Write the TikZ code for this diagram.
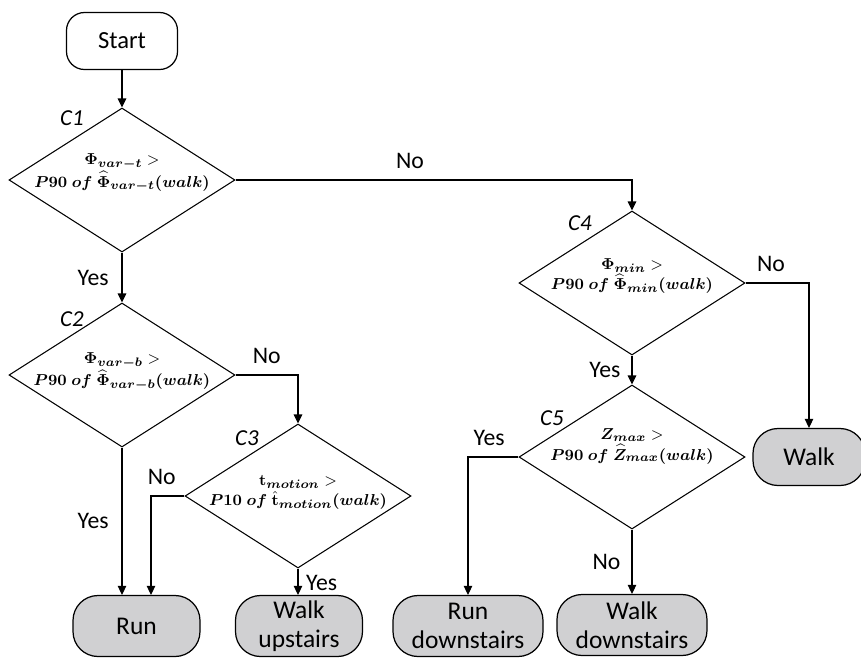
\documentclass[tikz,border=0pt]{standalone}
\usepackage{amsmath,bm}
\usepackage[no-math]{fontspec}
\setmainfont{Carlito}
\usepackage{tikz}
\usetikzlibrary{arrows.meta,positioning,calc,shapes.geometric}
\definecolor{endgray}{HTML}{D0D0D2}

\begin{document}
\begin{tikzpicture}[
    every node/.style={font=\fontsize{13.5pt}{16pt}\selectfont},
    term/.style={draw, line width=0.7pt, rounded corners=0.36cm,
                 minimum width=2.22cm, minimum height=1.14cm, align=center,
                 font=\fontsize{14pt}{16pt}\selectfont},
    endbox/.style={draw, line width=0.7pt, rounded corners=0.5cm, fill=endgray,
                   minimum height=1.22cm, align=center, inner sep=1pt,
                   font=\fontsize{14.5pt}{16.5pt}\selectfont},
    cond/.style={draw, diamond, line width=0.6pt, inner sep=0pt,
                 minimum width=4.52cm, minimum height=2.88cm},
    ctext/.style={align=center, inner sep=0pt,
                  font=\fontsize{9.3pt}{11.5pt}\selectfont},
    clabel/.style={font=\fontsize{13pt}{15pt}\selectfont\itshape},
    arr/.style={-{Triangle[length=1.8mm, width=1.7mm]}, line width=0.6pt}
]
\useasboundingbox (0,0) rectangle (17.22,-13.18);

% ── Start ─────────────────────────────────────────────────────────────────
\node[term] (start) at (2.44,-0.82) {Start};

% ── Conditions ────────────────────────────────────────────────────────────
\node[cond, label={[ctext, yshift=4pt]center:$\bm{\Phi_{var-t}} >$\\$\bm{P90\;of\;\widehat{\Phi}_{var-t}(walk)}$}]
      (c1) at (2.44,-3.60) {};
\node[clabel] (c1lab) at (1.44,-2.36) {C1};

\node[cond, label={[ctext, yshift=2pt]center:$\bm{\Phi_{var-b}} >$\\$\bm{P90\;of\;\widehat{\Phi}_{var-b}(walk)}$}]
      (c2) at (2.44,-7.50) {};
\node[clabel] (c2lab) at (1.44,-6.38) {C2};

\node[cond, label={[ctext, yshift=2pt]center:$\mathbf{t}_{\bm{motion}} >$\\$\bm{P10\;of\;}\hat{\mathbf{t}}_{\bm{motion}}\bm{(walk)}$}]
      (c3) at (5.96,-9.92) {};
\node[clabel] (c3lab) at (4.94,-8.76) {C3};

\node[cond, label={[ctext, yshift=4pt]center:$\bm{\Phi_{min}} >$\\$\bm{P90\;of\;\widehat{\Phi}_{min}(walk)}$}]
      (c4) at (12.64,-5.66) {};
\node[clabel] (c4lab) at (11.6,-4.46) {C4};

\node[cond, label={[ctext, yshift=6pt]center:$\bm{Z_{max}} >$\\$\bm{P90\;of\;\widehat{Z}_{max}(walk)}$}]
      (c5) at (12.64,-9.14) {};
\node[clabel] (c5lab) at (11.04,-8.36) {C5};

% ── Activities ────────────────────────────────────────────────────────────
\node[endbox, minimum width=2.54cm] (run) at (2.73,-12.52) {Run};
\node[endbox, minimum width=2.54cm] (walkup) at (5.98,-12.52) {Walk\\upstairs};
\node[endbox, minimum width=3.0cm] (rundown) at (9.36,-12.52) {Run\\downstairs};
\node[endbox, minimum width=3.0cm] (walkdown) at (12.64,-12.50) {Walk\\downstairs};
\node[endbox, minimum width=2.24cm, minimum height=1.14cm] (walk) at (16.18,-9.14) {Walk};

% ── Connectors ────────────────────────────────────────────────────────────
\draw[arr] (start) -- (c1);
\draw[arr] (c1.east) -| node[pos=0.22, above=3pt]{No} (c4.north);
\draw[arr] (c1.south) -- node[left=4pt]{Yes} (c2.north);

\draw[arr] (c2.east) -| node[pos=0.25, above=3pt]{No} (c3.north);
\draw[arr] (c2.south) -- node[left=4pt]{Yes} (c2.south |- run.north);

\draw[arr] (c3.west) -| node[pos=0.34, above=3pt]{No} ($(run.north)+(0.29,0)$);
\draw[arr] (c3.south) -- node[pos=0.55, right=1pt]{Yes} (c3.south |- walkup.north);

\draw[arr] (c4.east) -| node[pos=0.2, above=3pt]{No} (walk.north);
\draw[arr] (c4.south) -- node[left=3pt]{Yes} (c5.north);

\draw[arr] (c5.west) -| node[pos=0.29, above=3pt]{Yes} (rundown.north);
\draw[arr] (c5.south) -- node[left=3pt]{No} (c5.south |- walkdown.north);

\end{tikzpicture}
\end{document}
